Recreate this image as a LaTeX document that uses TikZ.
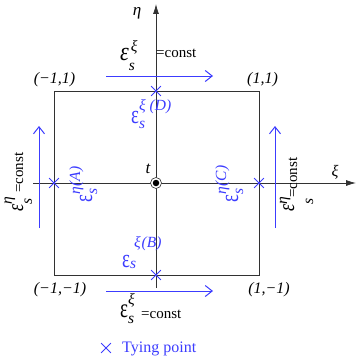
\documentclass[tikz,border=0pt]{standalone}
\usepackage{fontspec}
\setmainfont{Liberation Serif}
\usetikzlibrary{arrows.meta,shapes.misc}
\definecolor{tblue}{RGB}{60,60,255}
\definecolor{axgray}{RGB}{50,50,50}
\newcommand\scrfont{\fontsize{15.5}{16}\selectfont\itshape}
% #1 shape of epsilon, #2 superscript, #3 raise, #4 lowering of s, #5 size of epsilon, #6 width factor
\newcommand\epsl[6]{\scalebox{#6}[1]{\fontsize{#5}{#5}\selectfont#1ε}\rlap{\raisebox{#3}{\scrfont #2}}\raisebox{-#4}{\scrfont s}}
\tikzset{
  axisline/.style={draw=axgray, line width=0.8pt},
  axisarrow/.style={axisline, -{Latex[length=10pt,width=6pt]}},
  constarrow/.style={draw=tblue, line width=1pt, -{Straight Barb[length=7pt,width=11pt]}},
  tying/.style={cross out, draw=tblue, line width=0.8pt, minimum size=9pt, inner sep=0pt},
  lab/.style={font=\fontsize{16}{18}\selectfont\itshape, inner sep=0pt},
  txt/.style={font=\fontsize{15}{18}\selectfont, inner sep=0pt, anchor=base west},
  rtxt/.style={txt, rotate=90},
  epsn/.style={inner sep=0pt, anchor=base west},
  repsn/.style={epsn, rotate=90},
}
\begin{document}
\begin{tikzpicture}[x=1pt,y=-1pt]
\useasboundingbox (0,0) rectangle (358,361);
% key points
\coordinate (BL) at (54,275);
\coordinate (TR) at (259,91);
\coordinate (xs) at (33,183);
\coordinate (xe) at (356,183);
\coordinate (ys) at (156,288);
\coordinate (ye) at (156,4);
\coordinate (O) at (156,183);
\coordinate (A) at (54,183);
\coordinate (C) at (259,183);
\coordinate (D) at (156,91);
\coordinate (B) at (156,275);
\coordinate (t1) at (106,76);  \coordinate (t2) at (213,76);
\coordinate (b1) at (106,291); \coordinate (b2) at (213,291);
\coordinate (l1) at (39,228);  \coordinate (l2) at (39,126);
\coordinate (r1) at (275,228); \coordinate (r2) at (275,126);
% square and axes
\draw[axisline] (BL) rectangle (TR);
\draw[axisarrow] (xs) -- (xe);
\draw[axisarrow] (ys) -- (ye);
% constant-strain arrows
\draw[constarrow] (t1) -- (t2);
\draw[constarrow] (b1) -- (b2);
\draw[constarrow] (l1) -- (l2);
\draw[constarrow] (r1) -- (r2);
% tying points
\node[tying] (xA) at (A) {};
\node[tying] (xC) at (C) {};
\node[tying] (xD) at (D) {};
\node[tying] (xB) at (B) {};
% centre
\node[circle, draw=axgray, line width=0.6pt, fill=white, minimum size=11pt, inner sep=0pt] (ring) at (O) {};
\node[circle, fill=black, minimum size=6.5pt, inner sep=0pt] (dot) at (O) {};
\node[lab, font=\fontsize{17}{18}\selectfont\itshape] (tlab) at (148,169) {t};
% axis labels
\node[lab, font=\fontsize{17}{18}\selectfont\itshape] (eta) at (137,13) {η};
\node[lab] (xi) at (335,172) {ξ};
% corner labels
\node[lab] (c1) at (54.5,80) {(−1,1)};
\node[lab] (c2) at (262.5,80) {(1,1)};
\node[lab] (c3) at (60,290) {(−1,−1)};
\node[lab] (c4) at (269,290) {(1,−1)};
% const labels
\node[epsn] (etop) at (120,60) {\epsl{\itshape}{\hspace{2pt}ξ}{9pt}{10pt}{26}{0.85}};
\node[txt] (ctop) at (156,58) {=const};
\node[epsn] (ebot) at (120,317) {\epsl{\upshape}{ξ}{13pt}{6pt}{27}{0.7}};
\node[txt] (cbot) at (141,318) {=const};
\node[repsn] (eleft) at (23,212) {\epsl{\itshape}{η}{11pt}{9pt}{23}{0.8}};
\node[rtxt] (cleft) at (23,193) {=const};
\node[repsn] (eright) at (294,212) {\epsl{\itshape}{η}{7pt}{19pt}{23}{0.8}};
\node[rtxt] (cright) at (297,198) {=const};
% tying point strain labels
\node[epsn, text=tblue] (eD) at (131,123) {\epsl{\upshape}{ξ\hspace{4pt}(D)}{13pt}{5pt}{26}{0.72}};
\node[epsn, text=tblue] (eB) at (122,267) {\epsl{\upshape}{\hspace{4pt}ξ\hspace{1pt}(B)}{20pt}{1pt}{26}{0.72}};
\node[repsn, text=tblue] (eA) at (92,203) {\epsl{\upshape}{η\hspace{1pt}(A)}{12pt}{5pt}{26}{0.72}};
\node[repsn, text=tblue] (eC) at (238,203) {\epsl{\upshape}{η\hspace{1pt}(C)}{12pt}{5pt}{26}{0.72}};
% legend
\node[tying] (lx) at (106,348) {};
\node[txt, text=tblue, font=\fontsize{16}{18}\selectfont] (ltxt) at (122,352) {Tying point};
\end{tikzpicture}
\end{document}
